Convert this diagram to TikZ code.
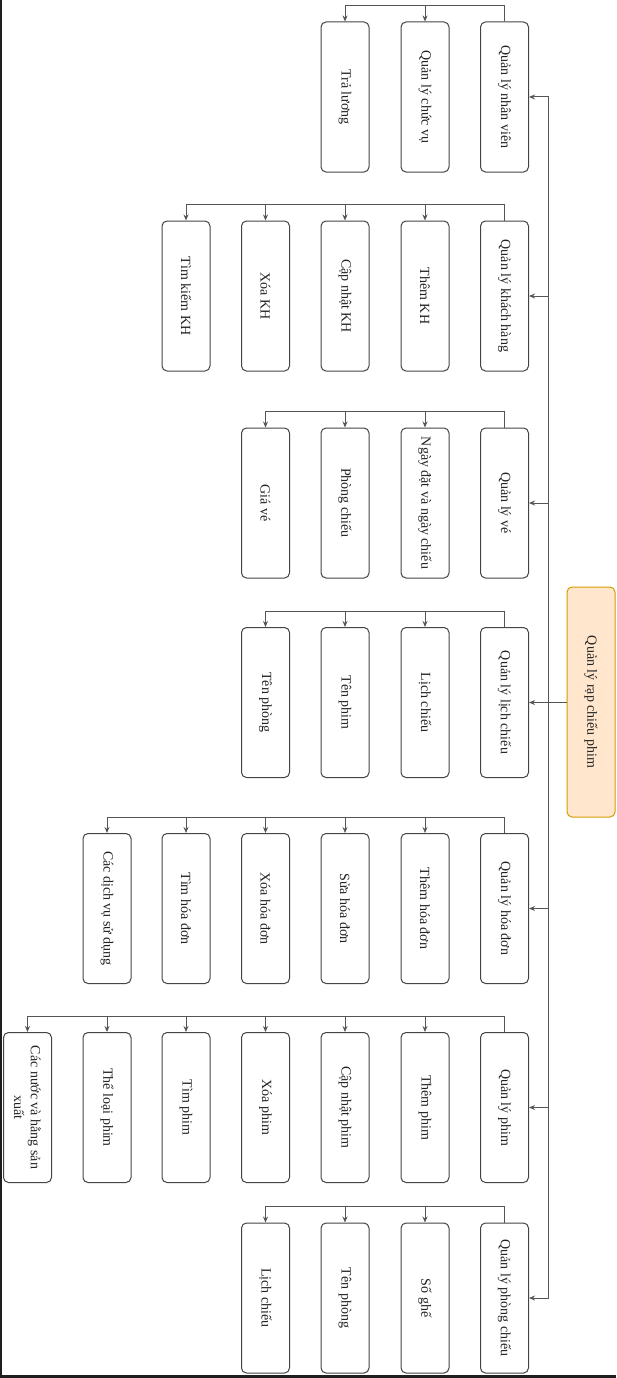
\documentclass[tikz,border=0pt]{standalone}
\usepackage{fontspec}
\usepackage{graphicx}
\setmainfont{Liberation Serif}
\usetikzlibrary{arrows.meta}
\definecolor{rootfill}{HTML}{FFE6CC}
\definecolor{rootdraw}{HTML}{D79B00}
\definecolor{linec}{HTML}{555555}
\definecolor{boxc}{HTML}{444444}
\definecolor{darkc}{HTML}{1E1E1E}
\definecolor{txtc}{HTML}{222222}
\newcommand{\vtext}[1]{\rotatebox{-90}{\parbox{140pt}{\centering\fontsize{14}{17}\selectfont #1}}}
\tikzset{
  box/.style={draw=boxc, line width=1pt, rounded corners=5pt, minimum width=48pt,
    minimum height=150pt, inner sep=0pt, fill=white, text=txtc},
  rootbox/.style={box, draw=rootdraw, fill=rootfill, minimum height=230pt},
  edge/.style={draw=linec, line width=1pt, -{Stealth[length=6pt,width=5pt]}},
}
\begin{document}
\begin{tikzpicture}[x=1pt,y=-1pt]
\useasboundingbox (0,0) rectangle (616,1378);
\fill[white] (0,0) rectangle (616,1378);
\fill[darkc] (0,0) rectangle (2,1378);
\fill[darkc] (0,1375) rectangle (616,1378);

% root
\node[rootbox] (R) at (591,702) {\vtext{Quản lý rạp chiếu phim}};
\coordinate (T) at (548,702);

% parents
\node[box] (P1) at (504.5,97) {\vtext{Quản lý nhân viên}};
\node[box] (P2) at (504.5,296) {\vtext{Quản lý khách hàng}};
\node[box] (P3) at (504.5,503) {\vtext{Quản lý vé}};
\node[box] (P4) at (504.5,702.5) {\vtext{Quản lý lịch chiếu}};
\node[box] (P5) at (504.5,908.5) {\vtext{Quản lý hóa đơn}};
\node[box] (P6) at (504.5,1107.5) {\vtext{Quản lý phim}};
\node[box] (P7) at (504.5,1298) {\vtext{Quản lý phòng chiếu}};

% group 1
\node[box] (C1b) at (425,97) {\vtext{Quản lý chức vụ}};
\node[box] (C1c) at (345,97) {\vtext{Trả lương}};
% group 2
\node[box] (C2b) at (425,296) {\vtext{Thêm KH}};
\node[box] (C2c) at (345,296) {\vtext{Cập nhật KH}};
\node[box] (C2d) at (265.5,296) {\vtext{Xóa KH}};
\node[box] (C2e) at (186,296) {\vtext{Tìm kiếm KH}};
% group 3
\node[box] (C3b) at (425,503) {\vtext{Ngày đặt và ngày chiếu}};
\node[box] (C3c) at (345,503) {\vtext{Phòng chiếu}};
\node[box] (C3d) at (265.5,503) {\vtext{Giá vé}};
% group 4
\node[box] (C4b) at (425,702.5) {\vtext{Lịch chiếu}};
\node[box] (C4c) at (345,702.5) {\vtext{Tên phim}};
\node[box] (C4d) at (265.5,702.5) {\vtext{Tên phòng}};
% group 5
\node[box] (C5b) at (425,908.5) {\vtext{Thêm hóa đơn}};
\node[box] (C5c) at (345,908.5) {\vtext{Sửa hóa đơn}};
\node[box] (C5d) at (265.5,908.5) {\vtext{Xóa hóa đơn}};
\node[box] (C5e) at (186,908.5) {\vtext{Tìm hóa đơn}};
\node[box] (C5f) at (107,908.5) {\vtext{Các dịch vụ sử dụng}};
% group 6
\node[box] (C6b) at (425,1107.5) {\vtext{Thêm phim}};
\node[box] (C6c) at (345,1107.5) {\vtext{Cập nhật phim}};
\node[box] (C6d) at (265.5,1107.5) {\vtext{Xóa phim}};
\node[box] (C6e) at (186,1107.5) {\vtext{Tìm phim}};
\node[box] (C6f) at (107,1107.5) {\vtext{Thể loại phim}};
\node[box] (C6g) at (27.5,1107.5) {\vtext{Các nước và hằng sản xuất}};
% group 7
\node[box] (C7b) at (425,1298) {\vtext{Số ghế}};
\node[box] (C7c) at (345,1298) {\vtext{Tên phòng}};
\node[box] (C7d) at (265.5,1298) {\vtext{Lịch chiếu}};

% root edges
\foreach \p in {P1,P2,P3,P4,P5,P6,P7}
  \draw[edge] (R.west) -- (T) |- (\p.east);

% child edges
\foreach \p/\c in {P1/C1b,P1/C1c,
                   P2/C2b,P2/C2c,P2/C2d,P2/C2e,
                   P3/C3b,P3/C3c,P3/C3d,
                   P4/C4b,P4/C4c,P4/C4d,
                   P5/C5b,P5/C5c,P5/C5d,P5/C5e,P5/C5f,
                   P6/C6b,P6/C6c,P6/C6d,P6/C6e,P6/C6f,P6/C6g,
                   P7/C7b,P7/C7c,P7/C7d}
  \draw[edge] (\p.north) -- ++(0,-16) -| (\c.north);
\end{tikzpicture}
\end{document}
